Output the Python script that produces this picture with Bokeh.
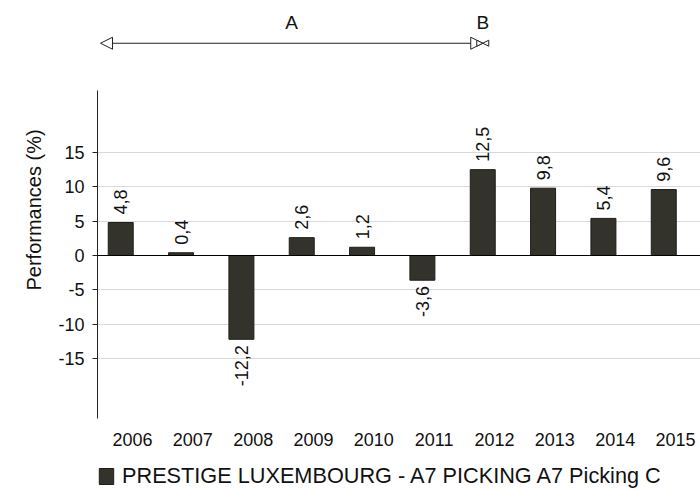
import math
from bokeh.plotting import figure
from bokeh.models import (ColumnDataSource, FixedTicker, Span, Arrow, NormalHead,
                          Legend, LegendItem, Range1d, Title)
from bokeh.transform import dodge
from bokeh.core.properties import value
from bokeh.embed import file_html
from bokeh.resources import INLINE

# ---- data ----
years = [2006, 2007, 2008, 2009, 2010, 2011, 2012, 2013, 2014, 2015]
perf = [4.8, 0.4, -12.2, 2.6, 1.2, -3.6, 12.5, 9.8, 5.4, 9.6]
series_name = "PRESTIGE LUXEMBOURG - A7 PICKING A7 Picking C"
y_ticks = [-15, -10, -5, 0, 5, 10, 15]
period_names = ["A", "B"]
period_start = [2005.47, 2011.805]
period_end = [2011.805, 2011.805]

FONT = "Liberation Sans"
BAR = "#33332b"
TXT = "#111111"
AXIS_BOTTOM = -23.73

labels = [f"{v:.1f}".replace(".", ",") for v in perf]
label_y = [v + 1.15 if v >= 0 else v - 0.85 for v in perf]
aligns = ["left" if v >= 0 else "right" for v in perf]
src = ColumnDataSource(dict(x=years, perf=perf, label=labels, ly=label_y, align=aligns))

p = figure(width=700, height=490, output_backend="svg", toolbar_location=None,
           x_range=Range1d(2005.42, 2015.414), y_range=Range1d(-34.21, 37.12),
           min_border_left=97, min_border_right=0, min_border_top=0, min_border_bottom=0)
p.outline_line_color = None
p.background_fill_color = "white"
p.border_fill_color = "white"

# grid
p.xgrid.visible = False
p.ygrid.ticker = FixedTicker(ticks=[t for t in y_ticks if t != 0])
p.ygrid.grid_line_color = "#d9d9d9"
p.ygrid.grid_line_width = 1

# bars
bars = p.vbar(x=dodge("x", -0.195, range=p.x_range), top="perf", bottom=0, width=0.414,
              source=src, fill_color=BAR, line_color="#1e1e19", line_width=1)

# zero line
p.add_layout(Span(location=0, dimension="width", line_color="#000000", line_width=1.2))

# value labels
p.text(x=dodge("x", -0.195, range=p.x_range), y="ly", text="label", source=src,
       angle=math.pi / 2, text_align="align", text_baseline="middle",
       text_font=value(FONT), text_font_size="18px", text_color=TXT)

# x axis (placed at the bottom of the value axis)
xa = p.xaxis[0]
xa.fixed_location = AXIS_BOTTOM
xa.ticker = FixedTicker(ticks=years)
xa.major_label_overrides = {y: str(y) for y in years}
xa.axis_line_color = None
xa.major_tick_line_color = None
xa.minor_tick_line_color = None
xa.major_tick_out = 0
xa.major_tick_in = 0
xa.major_label_standoff = 14
xa.major_label_text_font = FONT
xa.major_label_text_font_size = "18px"
xa.major_label_text_color = TXT

# y axis
ya = p.yaxis[0]
ya.ticker = FixedTicker(ticks=y_ticks)
ya.major_label_overrides = {t: str(t) for t in y_ticks}
ya.bounds = (AXIS_BOTTOM, 24)
ya.axis_line_color = "#222222"
ya.axis_line_width = 1
ya.major_tick_out = 5
ya.major_tick_in = 0
ya.major_tick_line_color = "#222222"
ya.minor_tick_line_color = None
ya.major_label_standoff = 8
ya.major_label_text_font = FONT
ya.major_label_text_font_size = "18px"
ya.major_label_text_color = TXT

ytitle = Title(text="Performances (%)", align="left", offset=200, standoff=21,
               text_font=FONT, text_font_style="normal", text_font_size="20px",
               text_color=TXT)
p.add_layout(ytitle, "left")

# period annotations (A, B)
arrow_y = 30.9
for name, s, e in zip(period_names, period_start, period_end):
    if e == s:
        x0, x1, hs = s, e + 0.001, 6
    else:
        x0, x1, hs = s, e, 12
    p.add_layout(Arrow(x_start=x0, y_start=arrow_y, x_end=x1, y_end=arrow_y,
                       start=NormalHead(size=hs, fill_color="white", line_color="#222222", line_width=1),
                       end=NormalHead(size=hs, fill_color="white", line_color="#222222", line_width=1),
                       line_color="#222222", line_width=1.2))
psrc = ColumnDataSource(dict(name=period_names,
                             xm=[(s + e) / 2 for s, e in zip(period_start, period_end)],
                             y=[arrow_y + 1.5] * len(period_names)))
p.text(x="xm", y="y", text="name", source=psrc, text_align="center", text_baseline="bottom",
       text_font=value(FONT), text_font_size="19px", text_color=TXT)

# legend
legend = Legend(items=[LegendItem(label=series_name, renderers=[bars])],
                location=(0, 1), orientation="horizontal",
                glyph_width=18, glyph_height=20, label_height=20, label_standoff=7,
                label_text_font=FONT, label_text_font_size="21.7px", label_text_color=TXT,
                padding=0, margin=0, border_line_color=None, background_fill_alpha=0)
p.add_layout(legend)

open("out.html", "w").write(file_html(p, INLINE))
